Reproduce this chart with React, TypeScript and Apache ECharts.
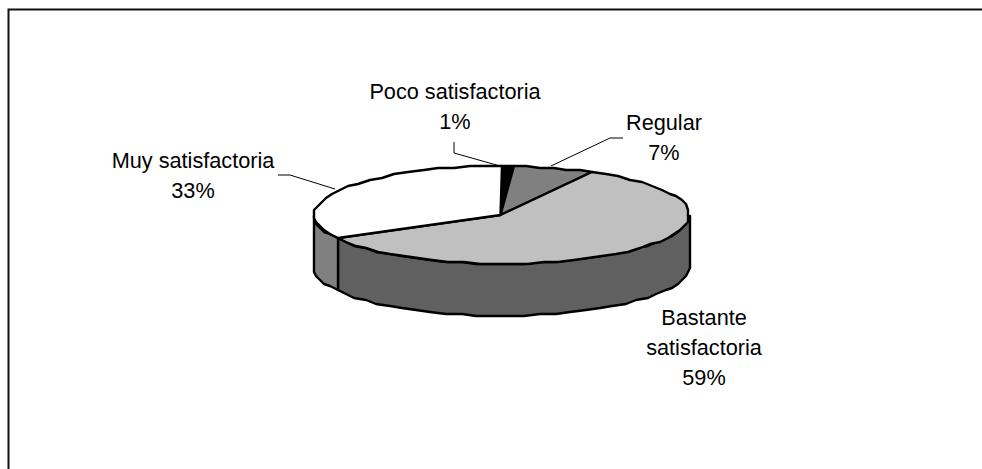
import React, { useEffect, useRef } from "react";
import * as echarts from "echarts";

const categories = ["Poco satisfactoria", "Regular", "Bastante\nsatisfactoria", "Muy satisfactoria"];
const shares = [1, 7, 59, 33];
const topColors = ["#000000", "#808080", "#c0c0c0", "#ffffff"];
const wallColors = ["#000000", "#404040", "#606060", "#808080"];

// Pie projection: tilted disc with a visible rim
const CX = 501.5;
const CY = 215;
const RX = 187.5;
const RY = 49;
const DEPTH = 52;
const GRID = 2;

// Label anchors (horizontal centre, top of first line box) and leader polylines
const labelAnchors: [number, number][] = [
  [455, 76],
  [664, 107],
  [704, 302],
  [193, 145],
];
const leaders: [number, number][][] = [
  [[454, 142], [454, 153], [500, 166]],
  [[623, 138], [610, 138], [551, 166]],
  [],
  [[278, 175], [290, 175], [335, 189]],
];

const snap = (v: number) => Math.round(v / GRID) * GRID;

// Clockwise angle from twelve o'clock to a point on the rim
const rim = (deg: number, dy = 0): number[] => {
  const a = (deg * Math.PI) / 180;
  const x = CX + RX * Math.sin(a);
  const y = CY - RY * Math.cos(a) + dy;
  return [snap(x), snap(y)];
};

const arc = (from: number, to: number, dy = 0): number[][] => {
  const pts: number[][] = [];
  const steps = Math.max(2, Math.ceil(Math.abs(to - from) / 5));
  for (let i = 0; i <= steps; i++) pts.push(rim(from + ((to - from) * i) / steps, dy));
  return pts;
};

const total = shares.reduce((s, v) => s + v, 0);
const starts = shares.map((_, i) => (shares.slice(0, i).reduce((s, v) => s + v, 0) / total) * 360);

function renderWall(_: unknown, api: any) {
  const i = api.value(0);
  const from = starts[i];
  const to = from + (api.value(1) / total) * 360;
  const lo = Math.max(from, 90);
  const hi = Math.min(to, 270);
  if (lo >= hi) return { type: "group", children: [] };
  const pts = [...arc(lo, hi), ...arc(hi, lo, DEPTH)];
  return {
    type: "polygon",
    shape: { points: pts },
    style: { fill: wallColors[i], stroke: "#000", lineWidth: 2.4, lineJoin: "round" },
  };
}

function renderTop(_: unknown, api: any) {
  const i = api.value(0);
  const from = starts[i];
  const to = from + (api.value(1) / total) * 360;
  const pts = [[CX - 1, CY], ...arc(from, to)];
  const children: any[] = [
    {
      type: "polygon",
      shape: { points: pts },
      style: { fill: topColors[i], stroke: "#000", lineWidth: 2.4, lineJoin: "round" },
    },
  ];
  if (leaders[i].length) {
    children.push({
      type: "polyline",
      shape: { points: leaders[i] },
      style: { fill: "none", stroke: "#000", lineWidth: 1 },
    });
  }
  children.push({
    type: "text",
    style: {
      x: labelAnchors[i][0],
      y: labelAnchors[i][1],
      text: `${categories[i]}\n${api.value(1)}%`,
      fill: "#000",
      fontFamily: '"Liberation Sans", Arial, sans-serif',
      fontSize: 21.7,
      lineHeight: 30,
      align: "center",
      verticalAlign: "top",
    },
  });
  return { type: "group", children };
}

export default function App() {
  const ref = useRef<HTMLDivElement>(null);

  useEffect(() => {
    document.body.style.margin = "0";
    const chart = echarts.init(ref.current!, undefined, { renderer: "svg" });
    const rows = shares.map((v, i) => [i, v]);
    chart.setOption({
      animation: false,
      backgroundColor: "#ffffff",
      graphic: [
        {
          type: "polyline",
          shape: { points: [[8.5, 469], [8.5, 9.5], [982, 9.5]] },
          style: { fill: "none", stroke: "#111", lineWidth: 2 },
        },
      ],
      series: [
        { type: "custom", coordinateSystem: "none", renderItem: renderWall, data: rows, z: 2, silent: true },
        { type: "custom", coordinateSystem: "none", renderItem: renderTop, data: rows, z: 3, silent: true },
      ],
    });
    return () => chart.dispose();
  }, []);

  return <div ref={ref} style={{ width: 982, height: 469 }} />;
}
